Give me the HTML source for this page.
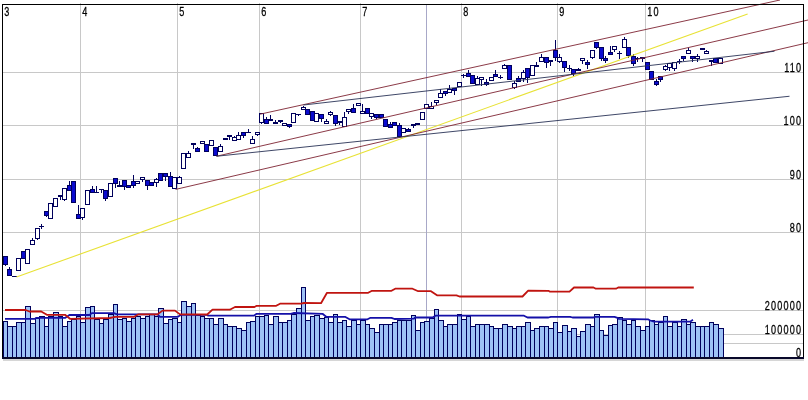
<!DOCTYPE html>
<html><head><meta charset="utf-8"><title>Chart</title>
<style>html,body{margin:0;padding:0;background:#fff;overflow:hidden}svg{display:block}text{font-family:"Liberation Sans",sans-serif}</style>
</head><body>
<svg width="808" height="400" viewBox="0 0 808 400">
<rect width="808" height="400" fill="#ffffff"/>
<g shape-rendering="crispEdges" stroke="#c8c8c8" stroke-width="1">
<line x1="3" y1="72.5" x2="803" y2="72.5"/>
<line x1="3" y1="125.5" x2="803" y2="125.5"/>
<line x1="3" y1="179.5" x2="803" y2="179.5"/>
<line x1="3" y1="232.5" x2="803" y2="232.5"/>
<line x1="3" y1="310.5" x2="803" y2="310.5"/>
<line x1="3" y1="334.5" x2="803" y2="334.5"/>
<line x1="3" y1="343.5" x2="803" y2="343.5"/>
<line x1="80.5" y1="3" x2="80.5" y2="358"/>
<line x1="177.5" y1="3" x2="177.5" y2="358"/>
<line x1="259.5" y1="3" x2="259.5" y2="358"/>
<line x1="360.5" y1="3" x2="360.5" y2="358"/>
<line x1="461.5" y1="3" x2="461.5" y2="358"/>
<line x1="557.5" y1="3" x2="557.5" y2="358"/>
<line x1="645.5" y1="3" x2="645.5" y2="358"/>
</g>
<line x1="426.5" y1="5" x2="426.5" y2="358" stroke="#a8a8c8" stroke-width="1" shape-rendering="crispEdges"/>
<g fill="#9ec2f6" stroke="#00005c" stroke-width="1" shape-rendering="crispEdges">
<rect x="3.5" y="321.5" width="4" height="36"/>
<rect x="7.5" y="326.5" width="5" height="31"/>
<rect x="12.5" y="326.5" width="4" height="31"/>
<rect x="16.5" y="322.5" width="5" height="35"/>
<rect x="21.5" y="322.5" width="4" height="35"/>
<rect x="25.5" y="306.5" width="5" height="51"/>
<rect x="30.5" y="323.5" width="5" height="34"/>
<rect x="35.5" y="318.5" width="4" height="39"/>
<rect x="39.5" y="316.5" width="5" height="41"/>
<rect x="44.5" y="326.5" width="4" height="31"/>
<rect x="48.5" y="316.5" width="5" height="41"/>
<rect x="53.5" y="312.5" width="5" height="45"/>
<rect x="58.5" y="316.5" width="4" height="41"/>
<rect x="62.5" y="326.5" width="5" height="31"/>
<rect x="67.5" y="321.5" width="4" height="36"/>
<rect x="71.5" y="319.5" width="5" height="38"/>
<rect x="76.5" y="316.5" width="4" height="41"/>
<rect x="80.5" y="322.5" width="5" height="35"/>
<rect x="85.5" y="307.5" width="5" height="50"/>
<rect x="90.5" y="306.5" width="4" height="51"/>
<rect x="94.5" y="319.5" width="5" height="38"/>
<rect x="99.5" y="323.5" width="4" height="34"/>
<rect x="103.5" y="319.5" width="5" height="38"/>
<rect x="108.5" y="314.5" width="5" height="43"/>
<rect x="113.5" y="304.5" width="4" height="53"/>
<rect x="117.5" y="319.5" width="5" height="38"/>
<rect x="122.5" y="318.5" width="4" height="39"/>
<rect x="126.5" y="321.5" width="5" height="36"/>
<rect x="131.5" y="318.5" width="4" height="39"/>
<rect x="135.5" y="316.5" width="5" height="41"/>
<rect x="140.5" y="318.5" width="5" height="39"/>
<rect x="145.5" y="316.5" width="4" height="41"/>
<rect x="149.5" y="314.5" width="5" height="43"/>
<rect x="154.5" y="316.5" width="4" height="41"/>
<rect x="158.5" y="308.5" width="5" height="49"/>
<rect x="163.5" y="323.5" width="5" height="34"/>
<rect x="168.5" y="319.5" width="4" height="38"/>
<rect x="172.5" y="318.5" width="5" height="39"/>
<rect x="177.5" y="322.5" width="4" height="35"/>
<rect x="181.5" y="301.5" width="5" height="56"/>
<rect x="186.5" y="306.5" width="5" height="51"/>
<rect x="191.5" y="303.5" width="4" height="54"/>
<rect x="195.5" y="315.5" width="5" height="42"/>
<rect x="200.5" y="316.5" width="4" height="41"/>
<rect x="204.5" y="318.5" width="5" height="39"/>
<rect x="209.5" y="318.5" width="4" height="39"/>
<rect x="213.5" y="324.5" width="5" height="33"/>
<rect x="218.5" y="318.5" width="5" height="39"/>
<rect x="223.5" y="324.5" width="4" height="33"/>
<rect x="227.5" y="326.5" width="5" height="31"/>
<rect x="232.5" y="326.5" width="4" height="31"/>
<rect x="236.5" y="328.5" width="5" height="29"/>
<rect x="241.5" y="330.5" width="5" height="27"/>
<rect x="246.5" y="322.5" width="4" height="35"/>
<rect x="250.5" y="321.5" width="5" height="36"/>
<rect x="255.5" y="316.5" width="4" height="41"/>
<rect x="259.5" y="316.5" width="5" height="41"/>
<rect x="264.5" y="315.5" width="4" height="42"/>
<rect x="268.5" y="324.5" width="5" height="33"/>
<rect x="273.5" y="316.5" width="5" height="41"/>
<rect x="278.5" y="322.5" width="4" height="35"/>
<rect x="282.5" y="322.5" width="5" height="35"/>
<rect x="287.5" y="320.5" width="4" height="37"/>
<rect x="291.5" y="314.5" width="5" height="43"/>
<rect x="296.5" y="308.5" width="5" height="49"/>
<rect x="301.5" y="287.5" width="4" height="70"/>
<rect x="305.5" y="320.5" width="5" height="37"/>
<rect x="310.5" y="316.5" width="4" height="41"/>
<rect x="314.5" y="315.5" width="5" height="42"/>
<rect x="319.5" y="318.5" width="5" height="39"/>
<rect x="324.5" y="317.5" width="4" height="40"/>
<rect x="328.5" y="322.5" width="5" height="35"/>
<rect x="333.5" y="314.5" width="4" height="43"/>
<rect x="337.5" y="322.5" width="5" height="35"/>
<rect x="342.5" y="320.5" width="4" height="37"/>
<rect x="346.5" y="326.5" width="5" height="31"/>
<rect x="351.5" y="320.5" width="5" height="37"/>
<rect x="356.5" y="324.5" width="4" height="33"/>
<rect x="360.5" y="320.5" width="5" height="37"/>
<rect x="365.5" y="324.5" width="4" height="33"/>
<rect x="369.5" y="328.5" width="5" height="29"/>
<rect x="374.5" y="332.5" width="5" height="25"/>
<rect x="379.5" y="324.5" width="4" height="33"/>
<rect x="383.5" y="324.5" width="5" height="33"/>
<rect x="388.5" y="324.5" width="4" height="33"/>
<rect x="392.5" y="322.5" width="5" height="35"/>
<rect x="397.5" y="320.5" width="4" height="37"/>
<rect x="401.5" y="320.5" width="5" height="37"/>
<rect x="406.5" y="320.5" width="5" height="37"/>
<rect x="411.5" y="315.5" width="4" height="42"/>
<rect x="415.5" y="330.5" width="5" height="27"/>
<rect x="420.5" y="322.5" width="4" height="35"/>
<rect x="424.5" y="321.5" width="5" height="36"/>
<rect x="429.5" y="318.5" width="5" height="39"/>
<rect x="434.5" y="309.5" width="4" height="48"/>
<rect x="438.5" y="320.5" width="5" height="37"/>
<rect x="443.5" y="326.5" width="4" height="31"/>
<rect x="447.5" y="324.5" width="5" height="33"/>
<rect x="452.5" y="324.5" width="5" height="33"/>
<rect x="457.5" y="314.5" width="4" height="43"/>
<rect x="461.5" y="319.5" width="5" height="38"/>
<rect x="466.5" y="316.5" width="4" height="41"/>
<rect x="470.5" y="326.5" width="5" height="31"/>
<rect x="475.5" y="324.5" width="4" height="33"/>
<rect x="479.5" y="324.5" width="5" height="33"/>
<rect x="484.5" y="324.5" width="5" height="33"/>
<rect x="489.5" y="326.5" width="4" height="31"/>
<rect x="493.5" y="328.5" width="5" height="29"/>
<rect x="498.5" y="328.5" width="4" height="29"/>
<rect x="502.5" y="324.5" width="5" height="33"/>
<rect x="507.5" y="326.5" width="5" height="31"/>
<rect x="512.5" y="328.5" width="4" height="29"/>
<rect x="516.5" y="326.5" width="5" height="31"/>
<rect x="521.5" y="326.5" width="4" height="31"/>
<rect x="525.5" y="322.5" width="5" height="35"/>
<rect x="530.5" y="330.5" width="4" height="27"/>
<rect x="534.5" y="328.5" width="5" height="29"/>
<rect x="539.5" y="326.5" width="5" height="31"/>
<rect x="544.5" y="326.5" width="4" height="31"/>
<rect x="548.5" y="328.5" width="5" height="29"/>
<rect x="553.5" y="322.5" width="4" height="35"/>
<rect x="557.5" y="332.5" width="5" height="25"/>
<rect x="562.5" y="325.5" width="5" height="32"/>
<rect x="567.5" y="331.5" width="4" height="26"/>
<rect x="571.5" y="328.5" width="5" height="29"/>
<rect x="576.5" y="336.5" width="4" height="21"/>
<rect x="580.5" y="331.5" width="5" height="26"/>
<rect x="585.5" y="324.5" width="5" height="33"/>
<rect x="590.5" y="326.5" width="4" height="31"/>
<rect x="594.5" y="314.5" width="5" height="43"/>
<rect x="599.5" y="330.5" width="4" height="27"/>
<rect x="603.5" y="335.5" width="5" height="22"/>
<rect x="608.5" y="325.5" width="4" height="32"/>
<rect x="612.5" y="324.5" width="5" height="33"/>
<rect x="617.5" y="317.5" width="5" height="40"/>
<rect x="622.5" y="320.5" width="4" height="37"/>
<rect x="626.5" y="324.5" width="5" height="33"/>
<rect x="631.5" y="320.5" width="4" height="37"/>
<rect x="635.5" y="326.5" width="5" height="31"/>
<rect x="640.5" y="330.5" width="5" height="27"/>
<rect x="645.5" y="326.5" width="4" height="31"/>
<rect x="649.5" y="320.5" width="5" height="37"/>
<rect x="654.5" y="324.5" width="4" height="33"/>
<rect x="658.5" y="322.5" width="5" height="35"/>
<rect x="663.5" y="316.5" width="4" height="41"/>
<rect x="667.5" y="326.5" width="5" height="31"/>
<rect x="672.5" y="322.5" width="5" height="35"/>
<rect x="677.5" y="326.5" width="4" height="31"/>
<rect x="681.5" y="319.5" width="5" height="38"/>
<rect x="686.5" y="324.5" width="4" height="33"/>
<rect x="690.5" y="322.5" width="5" height="35"/>
<rect x="695.5" y="326.5" width="5" height="31"/>
<rect x="700.5" y="326.5" width="4" height="31"/>
<rect x="704.5" y="326.5" width="5" height="31"/>
<rect x="709.5" y="322.5" width="4" height="35"/>
<rect x="713.5" y="324.5" width="5" height="33"/>
<rect x="718.5" y="328.5" width="5" height="29"/>
</g>
<polyline points="5.0,318.8 35.0,318.8 36.0,317.9 65.0,317.9 69.4,315.0 89.4,315.0 91.9,313.1 113.8,313.1 117.0,314.4 157.5,314.4 160.0,316.9 177.5,316.9 181.0,314.8 207.0,314.8 208.0,315.7 253.8,315.7 256.7,313.8 290.5,313.8 293.5,313.0 322.5,313.8 326.2,316.8 345.0,316.8 349.5,319.3 367.5,319.3 370.5,317.8 391.5,317.8 394.5,319.0 414.0,318.7 415.0,317.5 432.5,317.5 435.5,315.7 524.0,315.7 527.5,317.5 548.5,317.5 550.8,316.8 570.2,316.8 572.5,317.5 593.5,317.5 595.0,316.8 614.5,316.8 617.5,317.8 619.0,318.9 648.0,319.3 650.2,320.5 654.0,321.7 690.0,321.7 693.0,319.8" fill="none" stroke="#1410a8" stroke-width="1.8" stroke-linejoin="round"/>
<polyline points="5.0,310.0 25.6,310.0 29.4,311.5 41.2,311.5 46.9,314.8 65.0,314.8 70.0,318.8 110.0,318.0 115.0,316.9 133.8,316.9 138.0,314.4 157.5,314.4 162.5,310.6 175.0,310.6 180.0,314.4 207.2,314.5 212.5,309.7 229.8,309.7 235.0,307.0 254.5,307.0 256.7,305.8 276.2,305.8 280.0,303.7 301.0,303.7 304.0,303.0 321.0,303.2 327.0,292.8 368.2,292.8 372.0,290.8 391.5,290.8 395.2,288.7 412.5,288.7 418.2,291.2 431.0,291.2 437.0,295.3 456.5,295.3 459.5,296.5 522.5,296.5 528.2,290.6 548.5,290.8 550.0,291.7 569.5,291.7 574.0,287.5 593.5,287.5 595.8,288.7 616.0,288.7 618.2,287.5 693.8,287.5" fill="none" stroke="#c01410" stroke-width="1.8" stroke-linejoin="round"/>
<g stroke="#00005c" stroke-width="1" shape-rendering="crispEdges">
<line x1="5.5" y1="265" x2="5.5" y2="266"/>
<rect x="3.5" y="256.5" width="4" height="8" fill="#0a0ad0"/>
<line x1="9.5" y1="267" x2="9.5" y2="269"/>
<rect x="7.5" y="269.5" width="4" height="6" fill="#0a0ad0"/>
<rect x="12" y="276" width="5" height="1" fill="#00005c" stroke="none"/>
<rect x="16.5" y="258.5" width="4" height="12" fill="#ffffff"/>
<rect x="21.5" y="251.5" width="4" height="7" fill="#0a0ad0"/>
<rect x="25.5" y="249.5" width="4" height="14" fill="#ffffff"/>
<line x1="32.5" y1="238" x2="32.5" y2="240"/>
<rect x="30.5" y="240.5" width="4" height="4" fill="#ffffff"/>
<line x1="37.5" y1="239" x2="37.5" y2="240"/>
<rect x="35.5" y="228.5" width="4" height="10" fill="#ffffff"/>
<line x1="41.5" y1="224" x2="41.5" y2="226"/>
<line x1="41.5" y1="227" x2="41.5" y2="229"/>
<rect x="39" y="226" width="5" height="1" fill="#00005c" stroke="none"/>
<line x1="46.5" y1="216" x2="46.5" y2="217"/>
<rect x="44.5" y="211.5" width="4" height="4" fill="#0a0ad0"/>
<rect x="48.5" y="203.5" width="4" height="15" fill="#ffffff"/>
<rect x="53.5" y="198.5" width="4" height="8" fill="#ffffff"/>
<line x1="60.5" y1="197" x2="60.5" y2="200"/>
<rect x="58.5" y="195.5" width="4" height="1" fill="#0a0ad0"/>
<line x1="64.5" y1="200" x2="64.5" y2="201"/>
<rect x="62.5" y="188.5" width="4" height="11" fill="#ffffff"/>
<line x1="69.5" y1="181" x2="69.5" y2="185"/>
<rect x="67.5" y="185.5" width="4" height="5" fill="#0a0ad0"/>
<rect x="71.5" y="181.5" width="4" height="21" fill="#0a0ad0"/>
<line x1="78.5" y1="205" x2="78.5" y2="214"/>
<rect x="76.5" y="214.5" width="4" height="4" fill="#0a0ad0"/>
<line x1="82.5" y1="218" x2="82.5" y2="220"/>
<rect x="80.5" y="208.5" width="4" height="9" fill="#ffffff"/>
<rect x="85.5" y="190.5" width="4" height="14" fill="#ffffff"/>
<line x1="92.5" y1="186" x2="92.5" y2="189"/>
<rect x="90.5" y="189.5" width="4" height="3" fill="#0a0ad0"/>
<line x1="96.5" y1="186" x2="96.5" y2="192"/>
<rect x="94" y="192" width="5" height="1" fill="#00005c" stroke="none"/>
<line x1="101.5" y1="190" x2="101.5" y2="193"/>
<rect x="99" y="189" width="5" height="1" fill="#00005c" stroke="none"/>
<line x1="105.5" y1="199" x2="105.5" y2="201"/>
<rect x="103.5" y="190.5" width="4" height="8" fill="#0a0ad0"/>
<rect x="108.5" y="183.5" width="4" height="13" fill="#ffffff"/>
<line x1="115.5" y1="184" x2="115.5" y2="188"/>
<rect x="113.5" y="178.5" width="4" height="5" fill="#0a0ad0"/>
<line x1="119.5" y1="181" x2="119.5" y2="185"/>
<rect x="117.5" y="185.5" width="4" height="1" fill="#0a0ad0"/>
<line x1="124.5" y1="187" x2="124.5" y2="190"/>
<rect x="122.5" y="180.5" width="4" height="6" fill="#0a0ad0"/>
<rect x="126.5" y="185.5" width="4" height="2" fill="#0a0ad0"/>
<line x1="133.5" y1="175" x2="133.5" y2="181"/>
<line x1="133.5" y1="186" x2="133.5" y2="188"/>
<rect x="131.5" y="181.5" width="4" height="4" fill="#0a0ad0"/>
<rect x="135.5" y="181.5" width="4" height="2" fill="#ffffff"/>
<line x1="142.5" y1="180" x2="142.5" y2="182"/>
<rect x="140.5" y="177.5" width="4" height="2" fill="#ffffff"/>
<line x1="147.5" y1="186" x2="147.5" y2="190"/>
<rect x="145.5" y="180.5" width="4" height="5" fill="#0a0ad0"/>
<rect x="149.5" y="182.5" width="4" height="3" fill="#0a0ad0"/>
<line x1="156.5" y1="178" x2="156.5" y2="179"/>
<line x1="156.5" y1="183" x2="156.5" y2="187"/>
<rect x="154.5" y="179.5" width="4" height="3" fill="#ffffff"/>
<rect x="158.5" y="173.5" width="4" height="7" fill="#0a0ad0"/>
<line x1="165.5" y1="177" x2="165.5" y2="181"/>
<rect x="163.5" y="173.5" width="4" height="3" fill="#0a0ad0"/>
<line x1="170.5" y1="172" x2="170.5" y2="176"/>
<rect x="168.5" y="176.5" width="4" height="10" fill="#0a0ad0"/>
<rect x="172.5" y="177.5" width="4" height="11" fill="#ffffff"/>
<line x1="179.5" y1="176" x2="179.5" y2="177"/>
<rect x="177.5" y="177.5" width="4" height="6" fill="#ffffff"/>
<rect x="181.5" y="153.5" width="4" height="15" fill="#ffffff"/>
<line x1="188.5" y1="151" x2="188.5" y2="153"/>
<rect x="186.5" y="153.5" width="4" height="4" fill="#ffffff"/>
<line x1="193.5" y1="145" x2="193.5" y2="149"/>
<rect x="191.5" y="143.5" width="4" height="1" fill="#0a0ad0"/>
<line x1="197.5" y1="147" x2="197.5" y2="148"/>
<rect x="195.5" y="148.5" width="4" height="3" fill="#0a0ad0"/>
<rect x="200.5" y="141.5" width="4" height="2" fill="#ffffff"/>
<rect x="204.5" y="144.5" width="4" height="7" fill="#0a0ad0"/>
<rect x="209.5" y="140.5" width="4" height="5" fill="#ffffff"/>
<rect x="213.5" y="147.5" width="4" height="8" fill="#0a0ad0"/>
<line x1="220.5" y1="144" x2="220.5" y2="146"/>
<rect x="218.5" y="146.5" width="4" height="5" fill="#ffffff"/>
<rect x="223.5" y="138.5" width="4" height="1" fill="#0a0ad0"/>
<line x1="229.5" y1="137" x2="229.5" y2="140"/>
<rect x="227.5" y="135.5" width="4" height="1" fill="#0a0ad0"/>
<line x1="234.5" y1="136" x2="234.5" y2="137"/>
<rect x="232.5" y="137.5" width="4" height="3" fill="#ffffff"/>
<line x1="238.5" y1="132" x2="238.5" y2="135"/>
<rect x="236.5" y="135.5" width="4" height="4" fill="#ffffff"/>
<line x1="243.5" y1="136" x2="243.5" y2="138"/>
<rect x="241.5" y="132.5" width="4" height="3" fill="#0a0ad0"/>
<line x1="248.5" y1="129" x2="248.5" y2="132"/>
<rect x="246" y="132" width="5" height="1" fill="#00005c" stroke="none"/>
<line x1="252.5" y1="136" x2="252.5" y2="139"/>
<rect x="250.5" y="139.5" width="4" height="4" fill="#ffffff"/>
<line x1="257.5" y1="135" x2="257.5" y2="136"/>
<rect x="255.5" y="132.5" width="4" height="2" fill="#ffffff"/>
<line x1="261.5" y1="123" x2="261.5" y2="124"/>
<rect x="259.5" y="113.5" width="4" height="9" fill="#ffffff"/>
<line x1="266.5" y1="117" x2="266.5" y2="119"/>
<rect x="264.5" y="119.5" width="4" height="4" fill="#0a0ad0"/>
<line x1="270.5" y1="115" x2="270.5" y2="119"/>
<rect x="268.5" y="119.5" width="4" height="1" fill="#0a0ad0"/>
<line x1="275.5" y1="120" x2="275.5" y2="122"/>
<rect x="273.5" y="122.5" width="4" height="1" fill="#0a0ad0"/>
<line x1="280.5" y1="122" x2="280.5" y2="123"/>
<rect x="278.5" y="120.5" width="4" height="1" fill="#0a0ad0"/>
<rect x="282.5" y="123.5" width="4" height="2" fill="#ffffff"/>
<line x1="289.5" y1="127" x2="289.5" y2="128"/>
<rect x="287.5" y="124.5" width="4" height="2" fill="#0a0ad0"/>
<rect x="291.5" y="113.5" width="4" height="9" fill="#ffffff"/>
<line x1="298.5" y1="115" x2="298.5" y2="116"/>
<rect x="296" y="114" width="5" height="1" fill="#00005c" stroke="none"/>
<line x1="303.5" y1="106" x2="303.5" y2="107"/>
<rect x="301.5" y="107.5" width="4" height="2" fill="#ffffff"/>
<rect x="305.5" y="109.5" width="4" height="5" fill="#0a0ad0"/>
<rect x="310.5" y="111.5" width="4" height="9" fill="#0a0ad0"/>
<rect x="314.5" y="113.5" width="4" height="8" fill="#ffffff"/>
<line x1="321.5" y1="119" x2="321.5" y2="122"/>
<rect x="319.5" y="114.5" width="4" height="4" fill="#0a0ad0"/>
<line x1="326.5" y1="119" x2="326.5" y2="121"/>
<rect x="324.5" y="121.5" width="4" height="2" fill="#ffffff"/>
<line x1="330.5" y1="111" x2="330.5" y2="112"/>
<line x1="330.5" y1="115" x2="330.5" y2="116"/>
<rect x="328.5" y="112.5" width="4" height="2" fill="#ffffff"/>
<line x1="335.5" y1="124" x2="335.5" y2="126"/>
<rect x="333.5" y="115.5" width="4" height="8" fill="#0a0ad0"/>
<line x1="339.5" y1="123" x2="339.5" y2="125"/>
<rect x="337.5" y="121.5" width="4" height="1" fill="#0a0ad0"/>
<line x1="344.5" y1="112" x2="344.5" y2="117"/>
<rect x="342.5" y="117.5" width="4" height="9" fill="#ffffff"/>
<line x1="348.5" y1="112" x2="348.5" y2="114"/>
<rect x="346.5" y="109.5" width="4" height="2" fill="#ffffff"/>
<line x1="353.5" y1="104" x2="353.5" y2="108"/>
<rect x="351.5" y="108.5" width="4" height="4" fill="#0a0ad0"/>
<rect x="356.5" y="103.5" width="4" height="2" fill="#ffffff"/>
<line x1="362.5" y1="104" x2="362.5" y2="111"/>
<rect x="360.5" y="111.5" width="4" height="2" fill="#ffffff"/>
<rect x="365.5" y="108.5" width="4" height="5" fill="#0a0ad0"/>
<line x1="371.5" y1="117" x2="371.5" y2="119"/>
<rect x="369.5" y="113.5" width="4" height="3" fill="#ffffff"/>
<line x1="376.5" y1="118" x2="376.5" y2="119"/>
<rect x="374.5" y="114.5" width="4" height="3" fill="#0a0ad0"/>
<rect x="379.5" y="114.5" width="4" height="3" fill="#0a0ad0"/>
<rect x="383.5" y="119.5" width="4" height="7" fill="#0a0ad0"/>
<line x1="390.5" y1="122" x2="390.5" y2="124"/>
<rect x="388.5" y="124.5" width="4" height="3" fill="#0a0ad0"/>
<rect x="392.5" y="122.5" width="4" height="3" fill="#0a0ad0"/>
<line x1="399.5" y1="123" x2="399.5" y2="125"/>
<rect x="397.5" y="125.5" width="4" height="11" fill="#0a0ad0"/>
<rect x="401.5" y="128.5" width="4" height="4" fill="#ffffff"/>
<line x1="408.5" y1="128" x2="408.5" y2="129"/>
<rect x="406.5" y="129.5" width="4" height="2" fill="#0a0ad0"/>
<line x1="413.5" y1="126" x2="413.5" y2="128"/>
<rect x="411.5" y="124.5" width="4" height="1" fill="#0a0ad0"/>
<rect x="415.5" y="123.5" width="4" height="1" fill="#0a0ad0"/>
<rect x="420.5" y="112.5" width="4" height="7" fill="#ffffff"/>
<rect x="424.5" y="104.5" width="4" height="4" fill="#ffffff"/>
<line x1="431.5" y1="102" x2="431.5" y2="106"/>
<rect x="429.5" y="106.5" width="4" height="2" fill="#ffffff"/>
<line x1="436.5" y1="103" x2="436.5" y2="105"/>
<rect x="434.5" y="100.5" width="4" height="2" fill="#ffffff"/>
<line x1="440.5" y1="89" x2="440.5" y2="93"/>
<rect x="438.5" y="93.5" width="4" height="4" fill="#ffffff"/>
<line x1="445.5" y1="94" x2="445.5" y2="96"/>
<rect x="443.5" y="91.5" width="4" height="2" fill="#0a0ad0"/>
<line x1="449.5" y1="85" x2="449.5" y2="89"/>
<rect x="447.5" y="89.5" width="4" height="3" fill="#ffffff"/>
<line x1="454.5" y1="91" x2="454.5" y2="95"/>
<rect x="452.5" y="88.5" width="4" height="2" fill="#0a0ad0"/>
<rect x="457.5" y="82.5" width="4" height="4" fill="#ffffff"/>
<line x1="463.5" y1="74" x2="463.5" y2="75"/>
<line x1="463.5" y1="76" x2="463.5" y2="78"/>
<rect x="461" y="75" width="5" height="1" fill="#00005c" stroke="none"/>
<line x1="468.5" y1="70" x2="468.5" y2="73"/>
<rect x="466.5" y="73.5" width="4" height="3" fill="#0a0ad0"/>
<rect x="470.5" y="75.5" width="4" height="8" fill="#0a0ad0"/>
<line x1="477.5" y1="76" x2="477.5" y2="78"/>
<rect x="475.5" y="78.5" width="4" height="6" fill="#ffffff"/>
<line x1="481.5" y1="80" x2="481.5" y2="86"/>
<rect x="479.5" y="77.5" width="4" height="2" fill="#ffffff"/>
<line x1="486.5" y1="79" x2="486.5" y2="82"/>
<line x1="486.5" y1="85" x2="486.5" y2="86"/>
<rect x="484.5" y="82.5" width="4" height="2" fill="#0a0ad0"/>
<rect x="489.5" y="77.5" width="4" height="3" fill="#ffffff"/>
<line x1="495.5" y1="70" x2="495.5" y2="74"/>
<rect x="493.5" y="74.5" width="4" height="2" fill="#0a0ad0"/>
<line x1="500.5" y1="75" x2="500.5" y2="77"/>
<line x1="500.5" y1="78" x2="500.5" y2="79"/>
<rect x="498" y="77" width="5" height="1" fill="#00005c" stroke="none"/>
<line x1="504.5" y1="64" x2="504.5" y2="65"/>
<rect x="502.5" y="65.5" width="4" height="3" fill="#ffffff"/>
<rect x="507.5" y="65.5" width="4" height="14" fill="#0a0ad0"/>
<line x1="514.5" y1="81" x2="514.5" y2="83"/>
<line x1="514.5" y1="88" x2="514.5" y2="89"/>
<rect x="512.5" y="83.5" width="4" height="4" fill="#ffffff"/>
<line x1="518.5" y1="76" x2="518.5" y2="78"/>
<rect x="516.5" y="78.5" width="4" height="3" fill="#0a0ad0"/>
<line x1="523.5" y1="70" x2="523.5" y2="72"/>
<line x1="523.5" y1="79" x2="523.5" y2="82"/>
<rect x="521.5" y="72.5" width="4" height="6" fill="#ffffff"/>
<line x1="527.5" y1="78" x2="527.5" y2="83"/>
<rect x="525.5" y="68.5" width="4" height="9" fill="#0a0ad0"/>
<rect x="530.5" y="65.5" width="4" height="10" fill="#ffffff"/>
<line x1="536.5" y1="62" x2="536.5" y2="65"/>
<rect x="534.5" y="65.5" width="4" height="1" fill="#0a0ad0"/>
<line x1="541.5" y1="54" x2="541.5" y2="57"/>
<rect x="539.5" y="57.5" width="4" height="4" fill="#ffffff"/>
<line x1="546.5" y1="63" x2="546.5" y2="68"/>
<rect x="544.5" y="57.5" width="4" height="5" fill="#0a0ad0"/>
<line x1="550.5" y1="62" x2="550.5" y2="66"/>
<rect x="548.5" y="60.5" width="4" height="1" fill="#0a0ad0"/>
<line x1="555.5" y1="40" x2="555.5" y2="50"/>
<line x1="555.5" y1="58" x2="555.5" y2="61"/>
<rect x="553.5" y="50.5" width="4" height="7" fill="#0a0ad0"/>
<line x1="559.5" y1="54" x2="559.5" y2="57"/>
<line x1="559.5" y1="62" x2="559.5" y2="63"/>
<rect x="557.5" y="57.5" width="4" height="4" fill="#ffffff"/>
<line x1="564.5" y1="68" x2="564.5" y2="72"/>
<rect x="562.5" y="61.5" width="4" height="6" fill="#0a0ad0"/>
<line x1="569.5" y1="65" x2="569.5" y2="68"/>
<line x1="569.5" y1="69" x2="569.5" y2="71"/>
<rect x="567" y="68" width="5" height="1" fill="#00005c" stroke="none"/>
<line x1="573.5" y1="74" x2="573.5" y2="76"/>
<rect x="571.5" y="69.5" width="4" height="4" fill="#0a0ad0"/>
<line x1="578.5" y1="68" x2="578.5" y2="69"/>
<rect x="576.5" y="69.5" width="4" height="1" fill="#0a0ad0"/>
<line x1="582.5" y1="61" x2="582.5" y2="64"/>
<rect x="580.5" y="58.5" width="4" height="2" fill="#ffffff"/>
<line x1="587.5" y1="60" x2="587.5" y2="62"/>
<line x1="587.5" y1="65" x2="587.5" y2="69"/>
<rect x="585.5" y="62.5" width="4" height="2" fill="#0a0ad0"/>
<line x1="592.5" y1="58" x2="592.5" y2="59"/>
<rect x="590.5" y="50.5" width="4" height="7" fill="#ffffff"/>
<line x1="596.5" y1="48" x2="596.5" y2="49"/>
<rect x="594.5" y="42.5" width="4" height="5" fill="#0a0ad0"/>
<line x1="601.5" y1="59" x2="601.5" y2="61"/>
<rect x="599.5" y="47.5" width="4" height="11" fill="#0a0ad0"/>
<line x1="605.5" y1="56" x2="605.5" y2="58"/>
<line x1="605.5" y1="61" x2="605.5" y2="63"/>
<rect x="603.5" y="58.5" width="4" height="2" fill="#0a0ad0"/>
<line x1="610.5" y1="46" x2="610.5" y2="52"/>
<rect x="608.5" y="52.5" width="4" height="2" fill="#0a0ad0"/>
<line x1="614.5" y1="50" x2="614.5" y2="52"/>
<rect x="612.5" y="46.5" width="4" height="3" fill="#ffffff"/>
<line x1="619.5" y1="51" x2="619.5" y2="53"/>
<line x1="619.5" y1="54" x2="619.5" y2="59"/>
<rect x="617" y="53" width="5" height="1" fill="#00005c" stroke="none"/>
<line x1="624.5" y1="37" x2="624.5" y2="39"/>
<rect x="622.5" y="39.5" width="4" height="8" fill="#ffffff"/>
<line x1="628.5" y1="56" x2="628.5" y2="58"/>
<rect x="626.5" y="47.5" width="4" height="8" fill="#0a0ad0"/>
<line x1="633.5" y1="54" x2="633.5" y2="56"/>
<line x1="633.5" y1="64" x2="633.5" y2="66"/>
<rect x="631.5" y="56.5" width="4" height="7" fill="#0a0ad0"/>
<line x1="637.5" y1="57" x2="637.5" y2="58"/>
<line x1="637.5" y1="59" x2="637.5" y2="62"/>
<rect x="635" y="58" width="5" height="1" fill="#00005c" stroke="none"/>
<line x1="642.5" y1="59" x2="642.5" y2="62"/>
<rect x="640.5" y="57.5" width="4" height="1" fill="#0a0ad0"/>
<rect x="645.5" y="62.5" width="4" height="7" fill="#0a0ad0"/>
<rect x="649.5" y="71.5" width="4" height="8" fill="#0a0ad0"/>
<line x1="656.5" y1="79" x2="656.5" y2="81"/>
<line x1="656.5" y1="85" x2="656.5" y2="86"/>
<rect x="654.5" y="81.5" width="4" height="3" fill="#0a0ad0"/>
<line x1="660.5" y1="80" x2="660.5" y2="82"/>
<rect x="658.5" y="76.5" width="4" height="3" fill="#0a0ad0"/>
<line x1="665.5" y1="65" x2="665.5" y2="66"/>
<line x1="665.5" y1="70" x2="665.5" y2="71"/>
<rect x="663.5" y="66.5" width="4" height="3" fill="#ffffff"/>
<line x1="669.5" y1="68" x2="669.5" y2="71"/>
<rect x="667.5" y="63.5" width="4" height="4" fill="#ffffff"/>
<line x1="674.5" y1="69" x2="674.5" y2="71"/>
<rect x="672.5" y="62.5" width="4" height="6" fill="#ffffff"/>
<line x1="679.5" y1="59" x2="679.5" y2="61"/>
<line x1="679.5" y1="62" x2="679.5" y2="64"/>
<rect x="677" y="61" width="5" height="1" fill="#00005c" stroke="none"/>
<line x1="683.5" y1="59" x2="683.5" y2="61"/>
<rect x="681.5" y="56.5" width="4" height="2" fill="#0a0ad0"/>
<line x1="688.5" y1="48" x2="688.5" y2="50"/>
<rect x="686.5" y="50.5" width="4" height="3" fill="#ffffff"/>
<line x1="692.5" y1="59" x2="692.5" y2="62"/>
<rect x="690.5" y="56.5" width="4" height="2" fill="#0a0ad0"/>
<line x1="697.5" y1="54" x2="697.5" y2="56"/>
<line x1="697.5" y1="59" x2="697.5" y2="62"/>
<rect x="695.5" y="56.5" width="4" height="2" fill="#ffffff"/>
<rect x="700.5" y="48.5" width="4" height="1" fill="#0a0ad0"/>
<line x1="706.5" y1="50" x2="706.5" y2="51"/>
<rect x="704.5" y="51.5" width="4" height="2" fill="#ffffff"/>
<line x1="711.5" y1="62" x2="711.5" y2="66"/>
<rect x="709.5" y="60.5" width="4" height="1" fill="#0a0ad0"/>
<rect x="713.5" y="58.5" width="4" height="4" fill="#0a0ad0"/>
<rect x="718.5" y="58.5" width="4" height="5" fill="#ffffff"/>
</g>
<line x1="16.5" y1="277" x2="747.6" y2="14" stroke="#e8e236" stroke-width="1.1"/>
<line x1="260" y1="114.2" x2="780" y2="0" stroke="#7e2432" stroke-width="0.9"/>
<line x1="216.5" y1="156.25" x2="808" y2="20" stroke="#7e2432" stroke-width="0.9"/>
<line x1="175.6" y1="189.4" x2="808" y2="42.7" stroke="#7e2432" stroke-width="0.9"/>
<line x1="216.5" y1="156.25" x2="789.5" y2="96.25" stroke="#293256" stroke-width="0.9"/>
<line x1="303.5" y1="105" x2="774.5" y2="51.25" stroke="#293256" stroke-width="0.9"/>
<g shape-rendering="crispEdges" stroke="#000000">
<line x1="3" y1="4.5" x2="804" y2="4.5" stroke-width="1"/>
<line x1="2.5" y1="4" x2="2.5" y2="359" stroke-width="1"/>
<line x1="803.5" y1="4" x2="803.5" y2="359" stroke-width="1"/>
<line x1="2" y1="358" x2="804" y2="358" stroke-width="2" stroke="#08082a"/>
</g>
<line x1="3" y1="360" x2="804" y2="360" stroke="#c8c8c8" stroke-width="1.5"/>
<g font-family="'Liberation Sans', sans-serif" font-size="12.3px" fill="#000000" stroke="#000000" stroke-width="0.3" letter-spacing="1.6" style="opacity:0.999">
<text transform="translate(4.3,16) scale(0.74,1)">3</text>
<text transform="translate(82.3,16) scale(0.74,1)">4</text>
<text transform="translate(179.3,16) scale(0.74,1)">5</text>
<text transform="translate(261.3,16) scale(0.74,1)">6</text>
<text transform="translate(362.3,16) scale(0.74,1)">7</text>
<text transform="translate(463.3,16) scale(0.74,1)">8</text>
<text transform="translate(559.3,16) scale(0.74,1)">9</text>
<text transform="translate(647.3,16) scale(0.74,1)">10</text>
<text transform="translate(802.2,71.8) scale(0.74,1)" text-anchor="end">110</text>
<text transform="translate(802.2,124.8) scale(0.74,1)" text-anchor="end">100</text>
<text transform="translate(802.2,178.8) scale(0.74,1)" text-anchor="end">90</text>
<text transform="translate(802.2,231.8) scale(0.74,1)" text-anchor="end">80</text>
<text transform="translate(802.2,309.8) scale(0.74,1)" text-anchor="end">200000</text>
<text transform="translate(802.2,333.8) scale(0.74,1)" text-anchor="end">100000</text>
<text transform="translate(802.2,357) scale(0.74,1)" text-anchor="end">0</text>
</g>
</svg>
</body></html>
